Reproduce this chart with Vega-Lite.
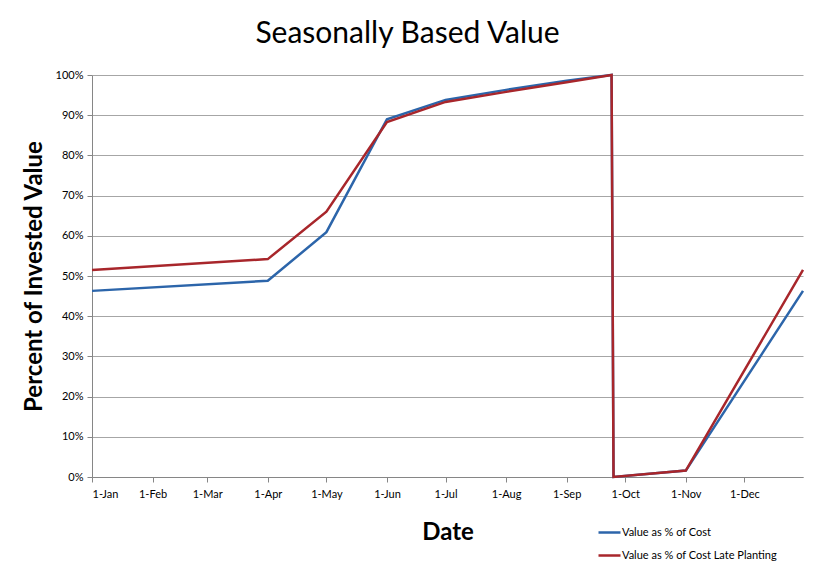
{
  "$schema": "https://vega.github.io/schema/vega-lite/v6.json",
  "autosize": "none",
  "width": 711,
  "height": 402,
  "padding": {"left": 92, "top": 75, "right": 28, "bottom": 103},
  "background": "white",
  "title": {
    "text": "Seasonally Based Value",
    "font": "Lato",
    "fontSize": 30,
    "fontWeight": "normal",
    "color": "#000000",
    "anchor": "middle",
    "dx": -40,
    "offset": 20
  },
  "data": {
    "values": [
      {"date": "Jan 1, 2013", "value": 0.463, "series": "Value as % of Cost"},
      {"date": "Apr 1, 2013", "value": 0.488, "series": "Value as % of Cost"},
      {"date": "May 1, 2013", "value": 0.609, "series": "Value as % of Cost"},
      {"date": "Jun 1, 2013", "value": 0.89, "series": "Value as % of Cost"},
      {"date": "Jul 1, 2013", "value": 0.938, "series": "Value as % of Cost"},
      {"date": "Aug 1, 2013", "value": 0.963, "series": "Value as % of Cost"},
      {"date": "Sep 1, 2013", "value": 0.986, "series": "Value as % of Cost"},
      {"date": "Sep 24, 2013", "value": 1.0, "series": "Value as % of Cost"},
      {"date": "Sep 25, 2013", "value": 0.0, "series": "Value as % of Cost"},
      {"date": "Nov 1, 2013", "value": 0.016, "series": "Value as % of Cost"},
      {"date": "Dec 31, 2013", "value": 0.463, "series": "Value as % of Cost"},
      {"date": "Jan 1, 2013", "value": 0.515, "series": "Value as % of Cost Late Planting"},
      {"date": "Apr 1, 2013", "value": 0.542, "series": "Value as % of Cost Late Planting"},
      {"date": "May 1, 2013", "value": 0.66, "series": "Value as % of Cost Late Planting"},
      {"date": "Jun 1, 2013", "value": 0.883, "series": "Value as % of Cost Late Planting"},
      {"date": "Jul 1, 2013", "value": 0.933, "series": "Value as % of Cost Late Planting"},
      {"date": "Aug 1, 2013", "value": 0.958, "series": "Value as % of Cost Late Planting"},
      {"date": "Sep 1, 2013", "value": 0.982, "series": "Value as % of Cost Late Planting"},
      {"date": "Sep 24, 2013", "value": 1.0, "series": "Value as % of Cost Late Planting"},
      {"date": "Sep 25, 2013", "value": 0.0, "series": "Value as % of Cost Late Planting"},
      {"date": "Nov 1, 2013", "value": 0.016, "series": "Value as % of Cost Late Planting"},
      {"date": "Dec 31, 2013", "value": 0.515, "series": "Value as % of Cost Late Planting"}
    ]
  },
  "mark": {"type": "line", "strokeWidth": 2.5},
  "encoding": {
    "x": {
      "field": "date",
      "type": "temporal",
      "title": "Date",
      "scale": {"domain": [{"year": 2013, "month": 1, "date": 1}, {"year": 2013, "month": 12, "date": 31}]},
      "axis": {
        "values": [
          {"year": 2013, "month": 1, "date": 1},
          {"year": 2013, "month": 2, "date": 1},
          {"year": 2013, "month": 3, "date": 1},
          {"year": 2013, "month": 4, "date": 1},
          {"year": 2013, "month": 5, "date": 1},
          {"year": 2013, "month": 6, "date": 1},
          {"year": 2013, "month": 7, "date": 1},
          {"year": 2013, "month": 8, "date": 1},
          {"year": 2013, "month": 9, "date": 1},
          {"year": 2013, "month": 10, "date": 1},
          {"year": 2013, "month": 11, "date": 1},
          {"year": 2013, "month": 12, "date": 1}
        ],
        "format": "%-d-%b",
        "grid": false,
        "labelPadding": 6,
        "titlePadding": 21,
        "titleFontSize": 24
      }
    },
    "y": {
      "field": "value",
      "type": "quantitative",
      "title": "Percent of Invested Value",
      "scale": {"domain": [0, 1], "nice": false},
      "axis": {
        "values": [0, 0.1, 0.2, 0.3, 0.4, 0.5, 0.6, 0.7, 0.8, 0.9, 1.0],
        "format": ".0%",
        "labelPadding": 4,
        "titleX": -46,
        "titleFontSize": 24
      }
    },
    "color": {
      "field": "series",
      "type": "nominal",
      "title": null,
      "scale": {
        "domain": ["Value as % of Cost", "Value as % of Cost Late Planting"],
        "range": ["#2c65aa", "#a8262b"]
      },
      "legend": {
        "orient": "none",
        "legendX": 505,
        "legendY": 445,
        "symbolType": "stroke",
        "symbolSize": 484,
        "symbolStrokeWidth": 2.5,
        "labelFont": "Lato",
        "labelFontSize": 11,
        "labelColor": "#000000",
        "labelOffset": 0,
        "rowPadding": 5
      }
    }
  },
  "config": {
    "view": {"stroke": null},
    "axis": {
      "labelFont": "Lato",
      "labelFontSize": 11,
      "labelColor": "#000000",
      "titleFont": "Lato",
      "titleFontWeight": "bold",
      "titleColor": "#000000",
      "domainColor": "#868686",
      "tickColor": "#868686",
      "tickSize": 5,
      "gridColor": "#a6a6a6"
    }
  }
}
